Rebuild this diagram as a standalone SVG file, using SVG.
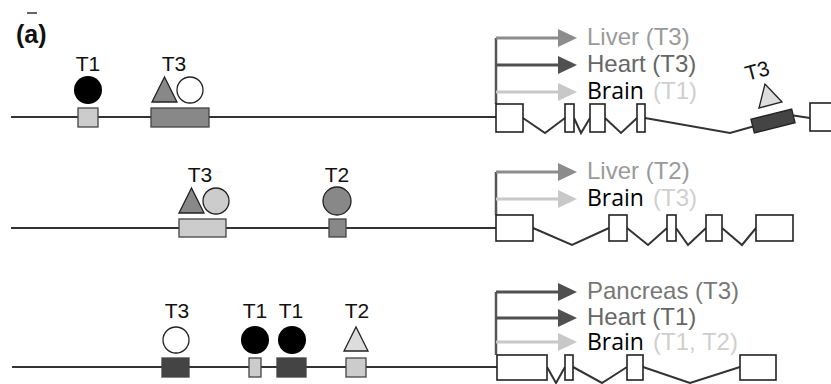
<svg xmlns="http://www.w3.org/2000/svg" width="831" height="384" viewBox="0 0 831 384">
<style>
.lbl{font-family:"Liberation Sans",Arial,sans-serif;font-size:21px;fill:#111;text-anchor:middle}
.tis{font-family:"Liberation Sans",Arial,sans-serif;font-size:24px}
.brain{font-family:"Open Sans","Noto Sans",sans-serif;font-size:23px;fill:#000}
.gene{stroke:#333;stroke-width:2;fill:none}
.exon{fill:#fff;stroke:#222;stroke-width:1.6}
.site{stroke:#444;stroke-width:1.3}
.tf{stroke:#222;stroke-width:1.3}
.vert{stroke:#555;stroke-width:2.5;fill:none}
</style>
<rect width="831" height="384" fill="#fff"/>
<line x1="27" y1="13" x2="37" y2="13" stroke="#333" stroke-width="1.5"/>
<text x="16" y="43" font-family="Liberation Sans,Arial,sans-serif" font-size="25" font-weight="bold" fill="#111">(a)</text>

<g id="connectors">
  <polyline class="gene" points="11,117 496,117"/>
  <polyline class="gene" points="523,118 545,133 565,118"/>
  <polyline class="gene" points="574,118 581,133 590,118"/>
  <polyline class="gene" points="605,118 621,133 637,118"/>
  <polyline class="gene" points="645,118 730,133 753,126.5"/>
  <polyline class="gene" points="793.5,115.5 810,118"/>
  <polyline class="gene" points="11,228 496,228"/>
  <polyline class="gene" points="533,228 572,245 609,228"/>
  <polyline class="gene" points="627,228 648,245 667,228"/>
  <polyline class="gene" points="676,228 688,245 706,228"/>
  <polyline class="gene" points="722,228 742,245 756,228"/>
  <polyline class="gene" points="12,367 497,367"/>
  <polyline class="gene" points="547,367 556,383 565,367"/>
  <polyline class="gene" points="573,367 602,383 627,367"/>
  <polyline class="gene" points="643,367 690,383 740,367"/>
</g>

<g id="row1-sites">
  <g id="r1-t1">
    <text class="lbl" x="88" y="71">T1</text>
    <circle cx="88" cy="90" r="14" fill="#000"/>
    <rect class="site" x="78" y="108" width="20" height="19" fill="#ccc"/>
  </g>
  <g id="r1-t3">
    <text class="lbl" x="174" y="71">T3</text>
    <polygon class="tf" points="152,102 177,102 164.5,77" fill="#888"/>
    <circle class="tf" cx="190" cy="90" r="13" fill="#fff"/>
    <rect class="site" x="151" y="108" width="58" height="19" fill="#888"/>
  </g>
</g>

<g id="row1-gene">
  <g id="r1-promoter">
    <polyline class="vert" points="496,104 496,38"/>
    <line x1="496" y1="38" x2="559" y2="38" stroke="#8c8c8c" stroke-width="3"/>
    <polygon points="558,29 577,38 558,47" fill="#8c8c8c"/>
    <line x1="496" y1="65" x2="559" y2="65" stroke="#505050" stroke-width="3"/>
    <polygon points="558,56 577,65 558,74" fill="#505050"/>
    <line x1="496" y1="92" x2="559" y2="92" stroke="#c8c8c8" stroke-width="3"/>
    <polygon points="558,83 577,92 558,101" fill="#c8c8c8"/>
    <text class="tis" x="587" y="45" fill="#9a9a9a">Liver (T3)</text>
    <text class="tis" x="587" y="72" fill="#666">Heart (T3)</text>
    <text class="brain" x="587" y="99">Brain</text>
    <text class="tis" x="653" y="99" fill="#cfcfcf">(T1)</text>
  </g>
  <rect class="exon" x="496" y="104" width="27" height="28"/>
  <rect class="exon" x="565" y="104" width="9" height="28"/>
  <rect class="exon" x="590" y="104" width="15" height="28"/>
  <rect class="exon" x="637" y="104" width="8" height="28"/>
  <rect class="exon" x="810" y="103" width="30" height="28"/>
  <g id="r1-intronic-t3">
    <rect x="752" y="114" width="42" height="14" fill="#444" stroke="#222" stroke-width="1.3" transform="rotate(-14 773 121)"/>
    <polygon points="759,108 782,102 765,84" fill="#ddd" stroke="#222" stroke-width="1.3"/>
    <text class="lbl" x="757" y="78" transform="rotate(-15 757 70)">T3</text>
  </g>
</g>

<g id="row2-sites">
  <g id="r2-t3">
    <text class="lbl" x="200" y="182">T3</text>
    <polygon class="tf" points="179,213 204,213 191.5,188" fill="#888"/>
    <circle class="tf" cx="216" cy="201" r="13" fill="#ccc"/>
    <rect class="site" x="179" y="219" width="47" height="18" fill="#ccc"/>
  </g>
  <g id="r2-t2">
    <text class="lbl" x="337" y="182">T2</text>
    <circle class="tf" cx="337" cy="201" r="14" fill="#888"/>
    <rect class="site" x="329" y="219" width="17" height="18" fill="#888"/>
  </g>
</g>

<g id="row2-gene">
  <g id="r2-promoter">
    <polyline class="vert" points="496,215 496,172"/>
    <line x1="496" y1="172" x2="559" y2="172" stroke="#8c8c8c" stroke-width="3"/>
    <polygon points="558,163 577,172 558,181" fill="#8c8c8c"/>
    <line x1="496" y1="199" x2="559" y2="199" stroke="#c8c8c8" stroke-width="3"/>
    <polygon points="558,190 577,199 558,208" fill="#c8c8c8"/>
    <text class="tis" x="587" y="179" fill="#9a9a9a">Liver (T2)</text>
    <text class="brain" x="587" y="206">Brain</text>
    <text class="tis" x="653" y="206" fill="#cfcfcf">(T3)</text>
  </g>
  <rect class="exon" x="496" y="215" width="37" height="26"/>
  <rect class="exon" x="609" y="215" width="18" height="26"/>
  <rect class="exon" x="667" y="215" width="9" height="26"/>
  <rect class="exon" x="706" y="215" width="16" height="26"/>
  <rect class="exon" x="756" y="215" width="37" height="26"/>
</g>

<g id="row3-sites">
  <g id="r3-t3">
    <text class="lbl" x="177" y="318">T3</text>
    <circle class="tf" cx="176" cy="340" r="13" fill="#fff"/>
    <rect class="site" x="162" y="358" width="27" height="19" fill="#444"/>
  </g>
  <g id="r3-t1a">
    <text class="lbl" x="255" y="318">T1</text>
    <circle cx="255" cy="340" r="14" fill="#000"/>
    <rect class="site" x="249" y="358" width="12" height="19" fill="#ccc"/>
  </g>
  <g id="r3-t1b">
    <text class="lbl" x="291" y="318">T1</text>
    <circle cx="292" cy="340" r="14" fill="#000"/>
    <rect class="site" x="277" y="358" width="29" height="19" fill="#444"/>
  </g>
  <g id="r3-t2">
    <text class="lbl" x="357" y="318">T2</text>
    <polygon class="tf" points="344,351 368,351 356,327" fill="#ddd"/>
    <rect class="site" x="346" y="358" width="20" height="19" fill="#ccc"/>
  </g>
</g>

<g id="row3-gene">
  <g id="r3-promoter">
    <polyline class="vert" points="496,355 496,292"/>
    <line x1="496" y1="292" x2="559" y2="292" stroke="#505050" stroke-width="3"/>
    <polygon points="558,283 577,292 558,301" fill="#505050"/>
    <line x1="496" y1="318" x2="559" y2="318" stroke="#505050" stroke-width="3"/>
    <polygon points="558,309 577,318 558,327" fill="#505050"/>
    <line x1="496" y1="342" x2="559" y2="342" stroke="#c8c8c8" stroke-width="3"/>
    <polygon points="558,333 577,342 558,351" fill="#c8c8c8"/>
    <text class="tis" x="587" y="299" fill="#777">Pancreas (T3)</text>
    <text class="tis" x="587" y="325" fill="#666">Heart (T1)</text>
    <text class="brain" x="587" y="350">Brain</text>
    <text class="tis" x="653" y="350" fill="#cfcfcf">(T1, T2)</text>
  </g>
  <rect class="exon" x="497" y="355" width="50" height="25"/>
  <rect class="exon" x="565" y="355" width="8" height="25"/>
  <rect class="exon" x="627" y="355" width="16" height="25"/>
  <rect class="exon" x="740" y="355" width="36" height="25"/>
</g>
</svg>
